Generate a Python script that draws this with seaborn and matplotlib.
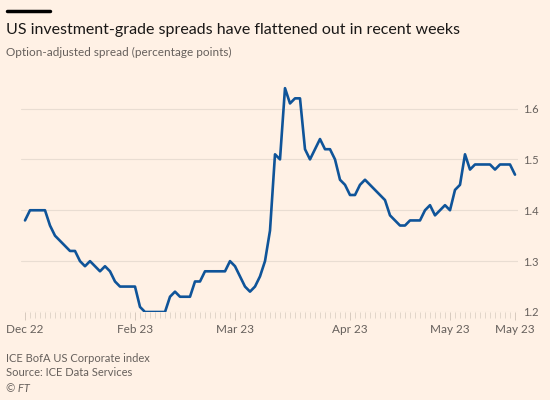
import matplotlib
matplotlib.use("Agg")
import matplotlib.pyplot as plt
import seaborn as sns
import pandas as pd

# daily option-adjusted spread (percentage points)
spread = [
    1.38, 1.40, 1.40, 1.40, 1.40, 1.37, 1.35, 1.34, 1.33, 1.32,
    1.32, 1.30, 1.29, 1.30, 1.29, 1.28, 1.29, 1.28, 1.26, 1.25,
    1.25, 1.25, 1.25, 1.21, 1.20, 1.20, 1.20, 1.20, 1.20, 1.23,
    1.24, 1.23, 1.23, 1.23, 1.26, 1.26, 1.28, 1.28, 1.28, 1.28,
    1.28, 1.30, 1.29, 1.27, 1.25, 1.24, 1.25, 1.27, 1.30, 1.36,
    1.51, 1.50, 1.64, 1.61, 1.62, 1.62, 1.52, 1.50, 1.52, 1.54,
    1.52, 1.52, 1.50, 1.46, 1.45, 1.43, 1.43, 1.45, 1.46, 1.45,
    1.44, 1.43, 1.42, 1.39, 1.38, 1.37, 1.37, 1.38, 1.38, 1.38,
    1.40, 1.41, 1.39, 1.40, 1.41, 1.40, 1.44, 1.45, 1.51, 1.48,
    1.49, 1.49, 1.49, 1.49, 1.48, 1.49, 1.49, 1.49, 1.47,
]
tick_pos = [0, 22, 42, 65, 85, 98]
tick_labels = ["Dec 22", "Feb 23", "Mar 23", "Apr 23", "May 23", "May 23"]
y_ticks = [1.2, 1.3, 1.4, 1.5, 1.6]

df = pd.DataFrame({"day": range(len(spread)), "spread": spread})

bg = "#fff1e5"
grey = "#66605c"
sns.set_style("white", {"axes.facecolor": bg, "figure.facecolor": bg})
plt.rcParams["font.family"] = ["Lato", "DejaVu Sans"]

fig = plt.figure(figsize=(5.5, 4), dpi=100)
ax = fig.add_axes([21 / 550, 0.22, 497 / 550, 0.585])

sns.lineplot(data=df, x="day", y="spread", ax=ax, color="#0f5499", linewidth=1.9)

ax.set_xlim(-0.8, 98.6)
ax.set_ylim(1.2, 1.66)
ax.set_xlabel("")
ax.set_ylabel("")
for s in ax.spines.values():
    s.set_visible(False)

ax.set_yticks(y_ticks)
ax.set_yticklabels([f"{v:.1f}" for v in y_ticks])
ax.yaxis.tick_right()
ax.tick_params(axis="y", length=0, pad=4, labelsize=8, labelcolor=grey)
ax.grid(axis="y", color="#e9ddd2", linewidth=0.8)
ax.set_axisbelow(True)

ax.set_xticks(tick_pos)
ax.set_xticklabels(tick_labels)
ax.set_xticks(range(len(spread)), minor=True)
ax.tick_params(axis="x", which="major", bottom=True, length=5.5, width=0.7,
               color="#d6c9bd", pad=3, labelsize=8.5, labelcolor=grey)
ax.tick_params(axis="x", which="minor", bottom=True, length=4, width=0.6,
               color="#ddd1c5")

fig.add_artist(plt.Line2D([7 / 550, 50 / 550], [1 - 11 / 400, 1 - 11 / 400],
                          color="black", linewidth=2.5))
fig.text(6 / 550, 1 - 30 / 400, "US investment-grade spreads have flattened out in recent weeks",
         fontsize=11.5, color="#1a1817", va="center")
fig.text(6 / 550, 1 - 52 / 400, "Option-adjusted spread (percentage points)",
         fontsize=8.5, color=grey, va="center")
fig.text(6 / 550, 1 - 358 / 400, "ICE BofA US Corporate index",
         fontsize=8, color=grey, va="center")
fig.text(6 / 550, 1 - 373 / 400, "Source: ICE Data Services",
         fontsize=8, color=grey, va="center")
fig.text(6 / 550, 1 - 388 / 400, "© FT",
         fontsize=8, color=grey, va="center", style="italic")

fig.savefig("out.png", dpi=100, facecolor=bg)
